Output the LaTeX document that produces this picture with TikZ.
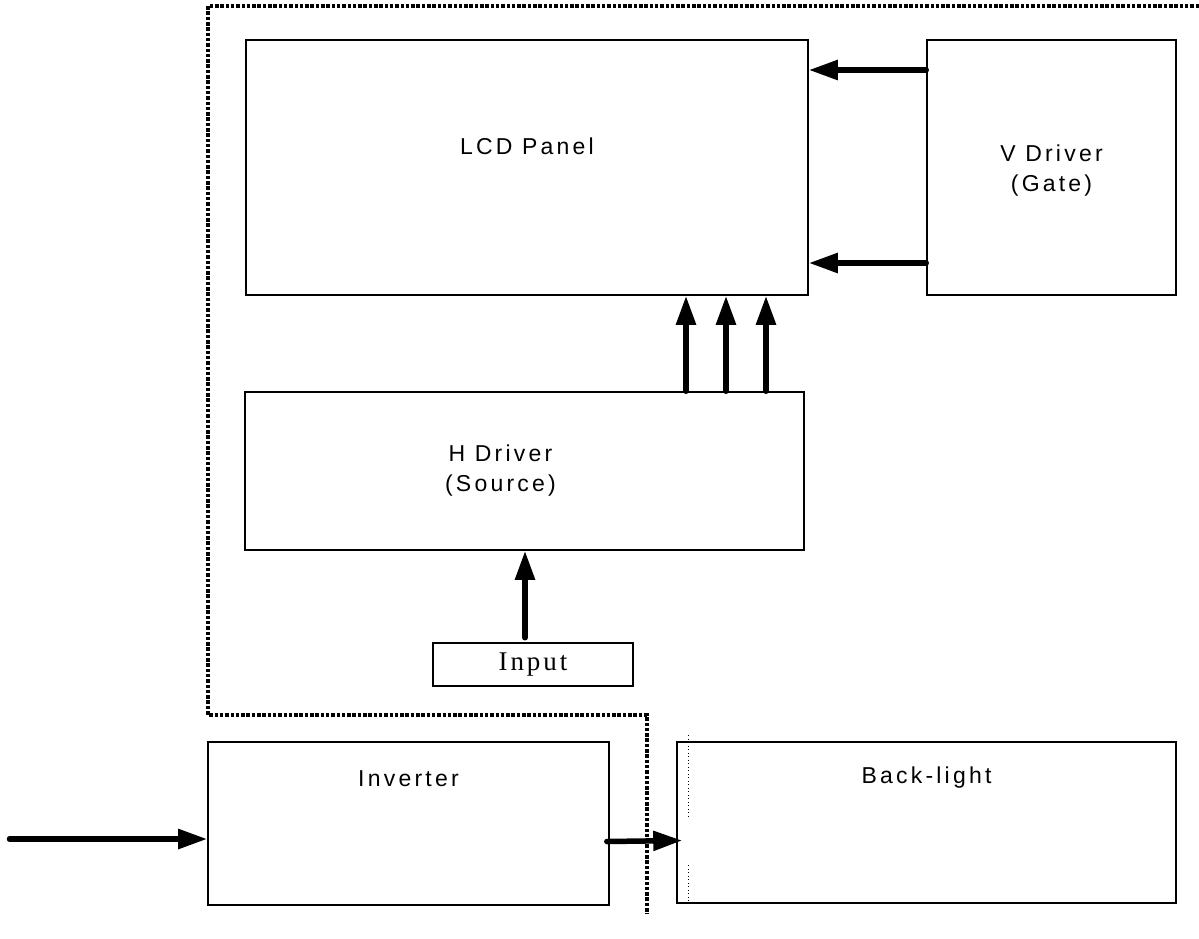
\documentclass[tikz,border=0pt]{standalone}
\usepackage{fontspec}
\setmainfont{Liberation Sans}[LetterSpace=14]
\newfontfamily\serifspaced{Liberation Serif}[LetterSpace=11]
\usetikzlibrary{arrows.meta, positioning}

\begin{document}
\begin{tikzpicture}[x=1pt, y=-1pt,
    box/.style={rectangle, draw, line width=1.6pt, inner sep=0pt},
    lbl/.style={font=\fontsize{23}{30}\selectfont, align=center},
    arr/.style={-{Triangle[length=29pt, width=19pt]}, line width=5.5pt, line cap=round},
    frame/.style={line width=3.5pt, dash pattern=on 3.5pt off 1.8pt},
    hairdot/.style={line width=0.8pt, dash pattern=on 1pt off 2.5pt}
]
\useasboundingbox (0,0) rectangle (1199,938);

\node[box, minimum width=562pt, minimum height=255pt,
      label={[lbl, yshift=21pt]center:LCD Panel}] (lcd) at (527,167.5) {};
\node[box, minimum width=249pt, minimum height=255pt,
      label={[lbl, yshift=-3pt]center:V Driver\\(Gate)}] (vdrv) at (1051.5,167.5) {};
\node[box, minimum width=559pt, minimum height=158pt,
      label={[lbl, xshift=-24pt]center:H Driver\\(Source)}] (hdrv) at (524.5,471) {};
\node[box, minimum width=200pt, minimum height=43pt,
      font=\serifspaced\fontsize{27}{30}\selectfont] (inp) at (533,664.5) {Input};
\node[box, minimum width=401pt, minimum height=163pt,
      label={[lbl, yshift=45pt]center:Inverter}] (inv) at (408.5,823.5) {};
\node[box, minimum width=499pt, minimum height=161pt,
      label={[lbl, yshift=45pt]center:Back-light}] (blight) at (926.5,822.5) {};

% dotted module outline
\draw[frame] (1199,6) -- (208,6) -- (208,715) -- (647,715) -- (647,914);
\draw[hairdot] (688,735) -- (688,818);
\draw[hairdot] (688,865) -- (688,903);

\coordinate (src) at (9.5,839);

\draw[arr] (vdrv.west |- 0,70) -- (lcd.east |- 0,70);
\draw[arr] (vdrv.west |- 0,263) -- (lcd.east |- 0,263);
\foreach \xx in {686,726,766}
    \draw[arr] (hdrv.north -| \xx,0) -- (lcd.south -| \xx,0);
\draw[arr] (inp.north -| 525,0) ++(0,-4.5) -- (hdrv.south -| 525,0);
\draw[arr] (src) -- (inv.west |- src);
\draw[arr] ([shift={(-3,18)}]inv.east) -- ([shift={(6,18)}]blight.west);
\end{tikzpicture}
\end{document}
